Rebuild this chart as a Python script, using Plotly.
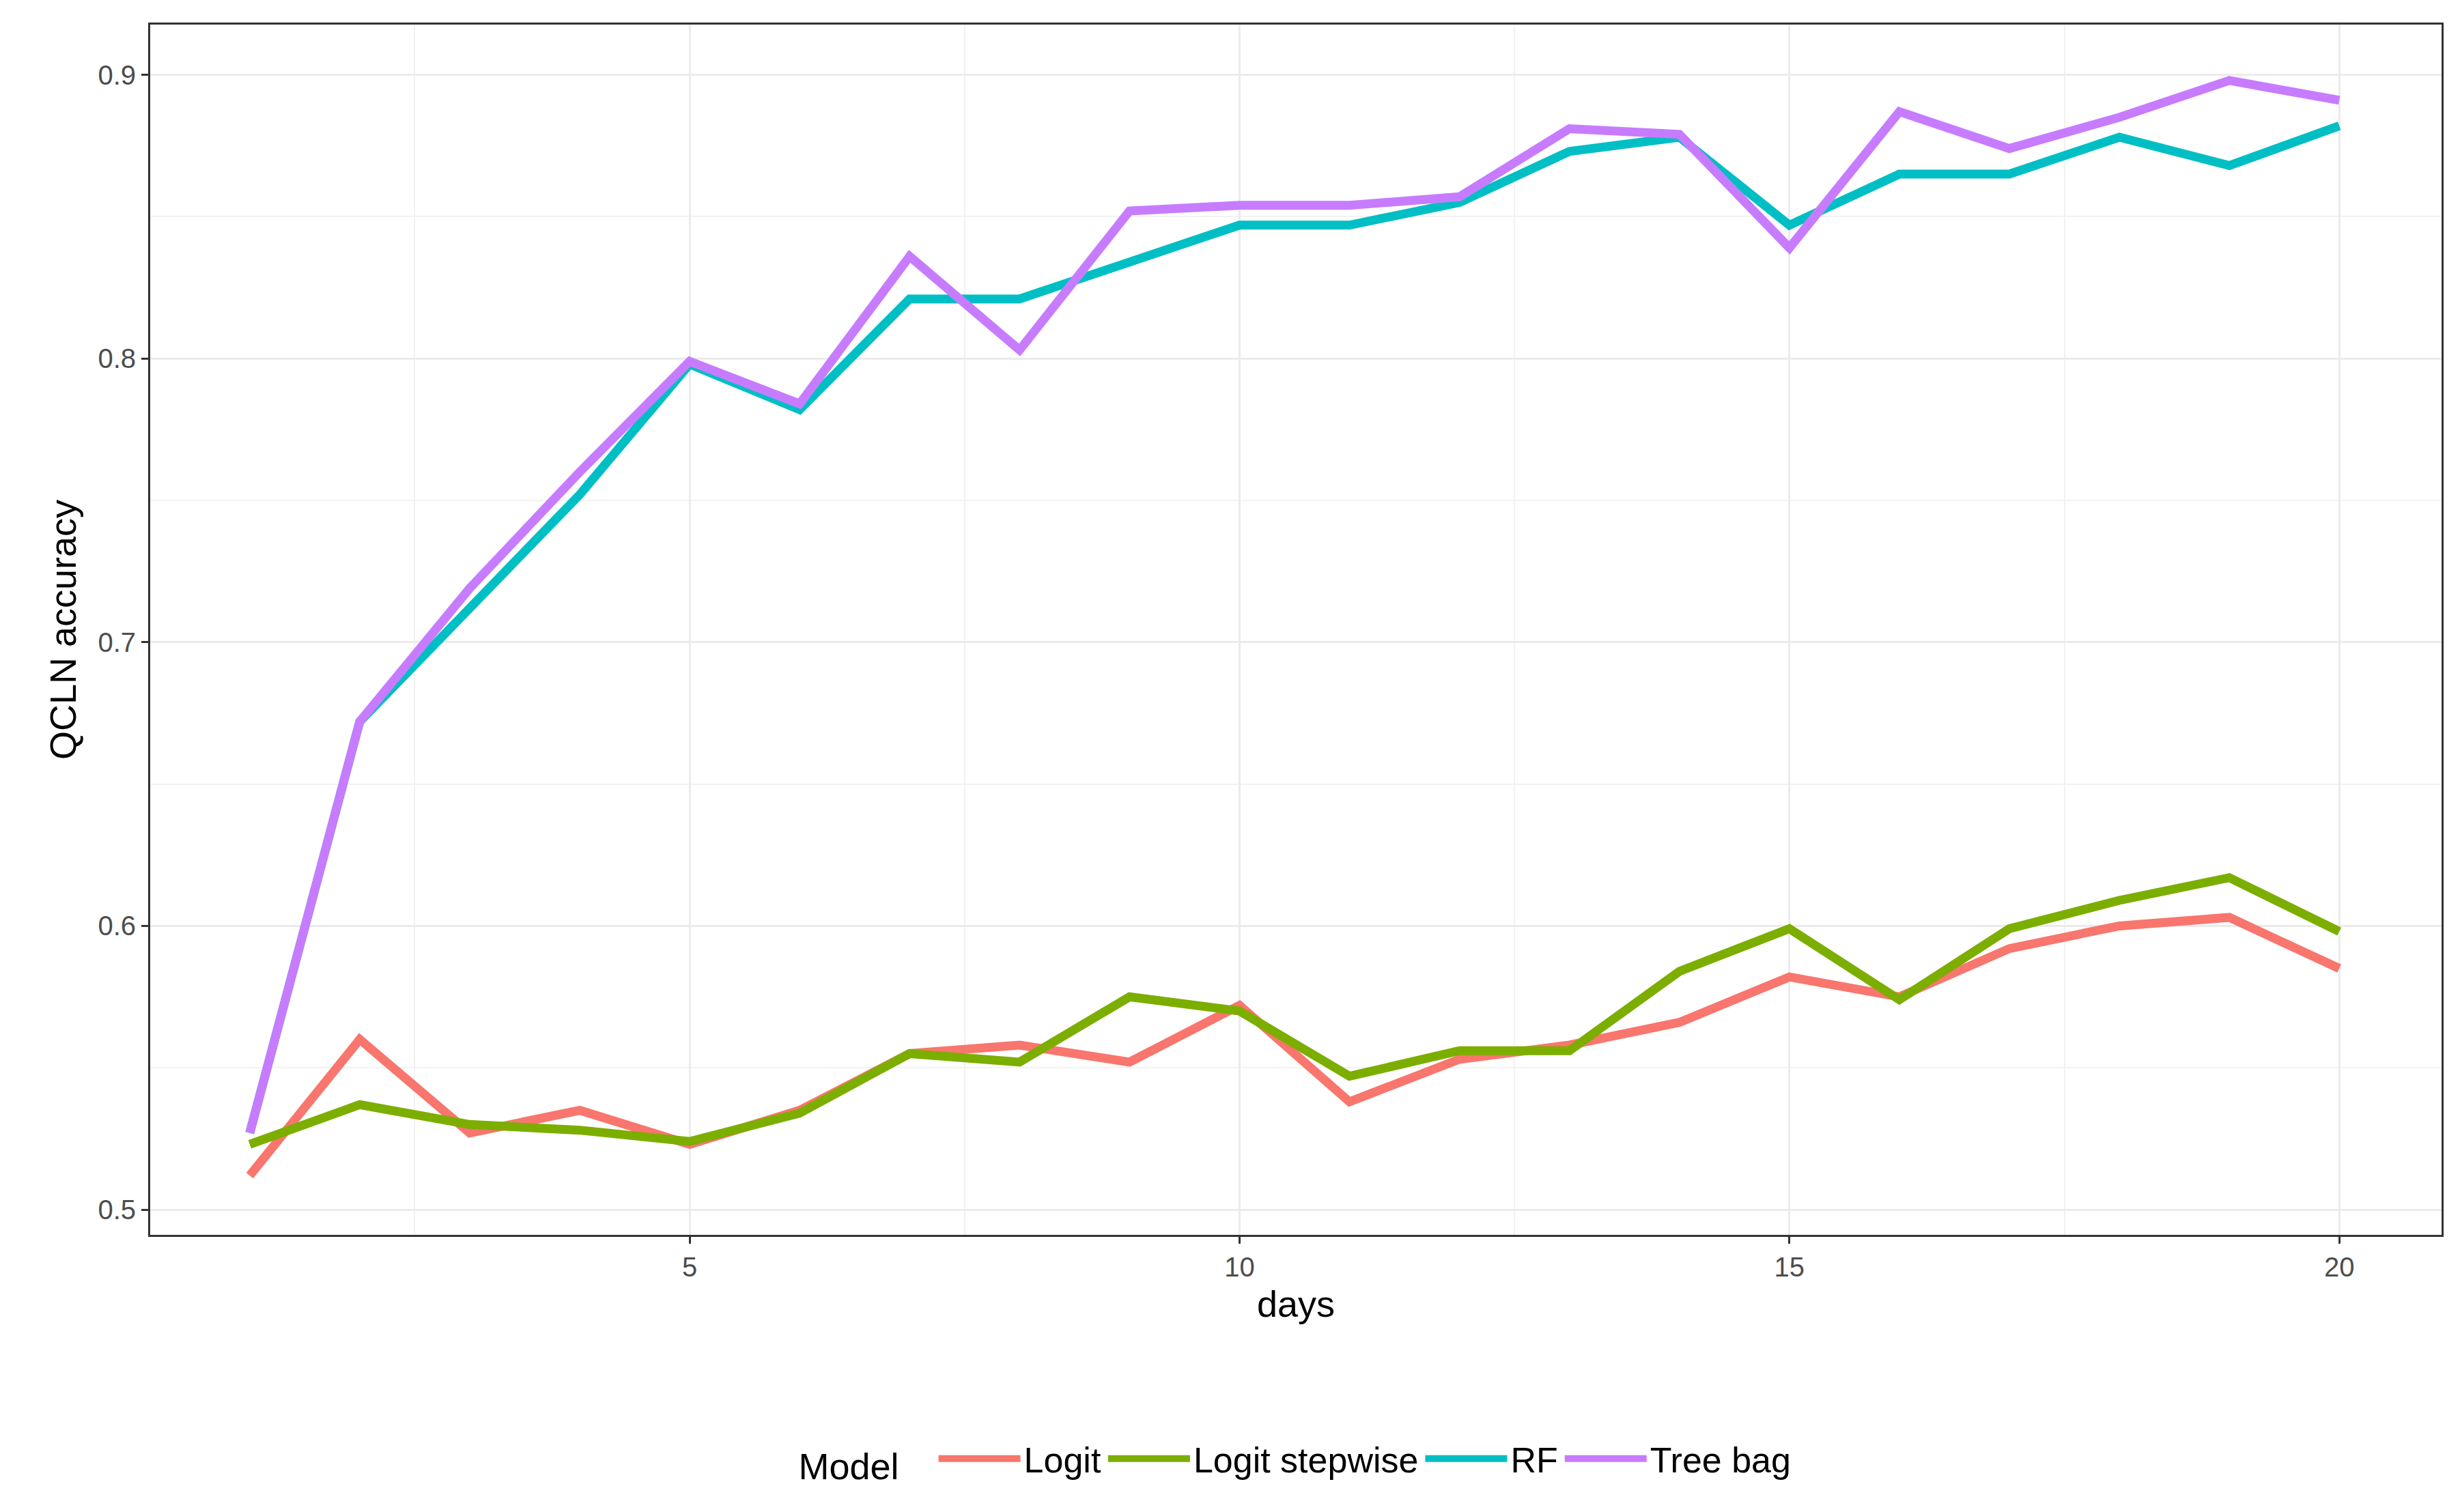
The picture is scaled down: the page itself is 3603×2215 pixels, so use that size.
import plotly.graph_objects as go

days = list(range(1, 21))
logit = [0.512, 0.560, 0.527, 0.535, 0.523, 0.535, 0.555, 0.558, 0.552, 0.572, 0.538, 0.553, 0.558, 0.566, 0.582, 0.575, 0.592, 0.600, 0.603, 0.585]
logit_step = [0.523, 0.537, 0.530, 0.528, 0.524, 0.534, 0.555, 0.552, 0.575, 0.570, 0.547, 0.556, 0.556, 0.584, 0.599, 0.574, 0.599, 0.609, 0.617, 0.598]
rf = [0.527, 0.672, 0.712, 0.752, 0.798, 0.782, 0.821, 0.821, 0.834, 0.847, 0.847, 0.855, 0.873, 0.878, 0.847, 0.865, 0.865, 0.878, 0.868, 0.882]
treebag = [0.527, 0.672, 0.719, 0.760, 0.799, 0.784, 0.836, 0.803, 0.852, 0.854, 0.854, 0.857, 0.881, 0.879, 0.839, 0.887, 0.874, 0.885, 0.898, 0.891]

series = [("Logit", logit, "#F8766D"), ("Logit stepwise", logit_step, "#7CAE00"),
          ("RF", rf, "#00BFC4"), ("Tree bag", treebag, "#C77CFF")]

fig = go.Figure()
for name, vals, col in series:
    fig.add_trace(go.Scatter(x=days, y=vals, mode="lines", name=name,
                             line=dict(color=col, width=13)))

axis_common = dict(showline=True, linecolor="#333333", linewidth=3, mirror=True,
                   gridcolor="#EBEBEB", gridwidth=3, zeroline=False,
                   ticks="outside", ticklen=10, tickwidth=3, tickcolor="#333333",
                   tickfont=dict(size=40, color="#4D4D4D", family="Liberation Sans"))

fig.update_layout(
    width=3603, height=2215, plot_bgcolor="white", paper_bgcolor="white",
    margin=dict(l=212, r=35, t=28, b=414),
    font=dict(family="Liberation Sans", color="black"),
    xaxis=dict(range=[0.095, 20.93], tickvals=[5, 10, 15, 20],
               minor=dict(dtick=2.5, tick0=0, showgrid=True, gridcolor="#F2F2F2", gridwidth=2),
               title=dict(text="days", font=dict(size=54)), **axis_common),
    yaxis=dict(range=[0.4911, 0.9177], tickvals=[0.5, 0.6, 0.7, 0.8, 0.9],
               minor=dict(dtick=0.05, tick0=0.5, showgrid=True, gridcolor="#F2F2F2", gridwidth=2),
               title=dict(text="QCLN accuracy", font=dict(size=54)), **axis_common),
    legend=dict(orientation="h", x=0.5, xanchor="center", y=-0.185, yanchor="middle",
                itemwidth=120,
                title=dict(text="Model   ", font=dict(size=54)), font=dict(size=52)),
)
fig.write_html("out.html")
